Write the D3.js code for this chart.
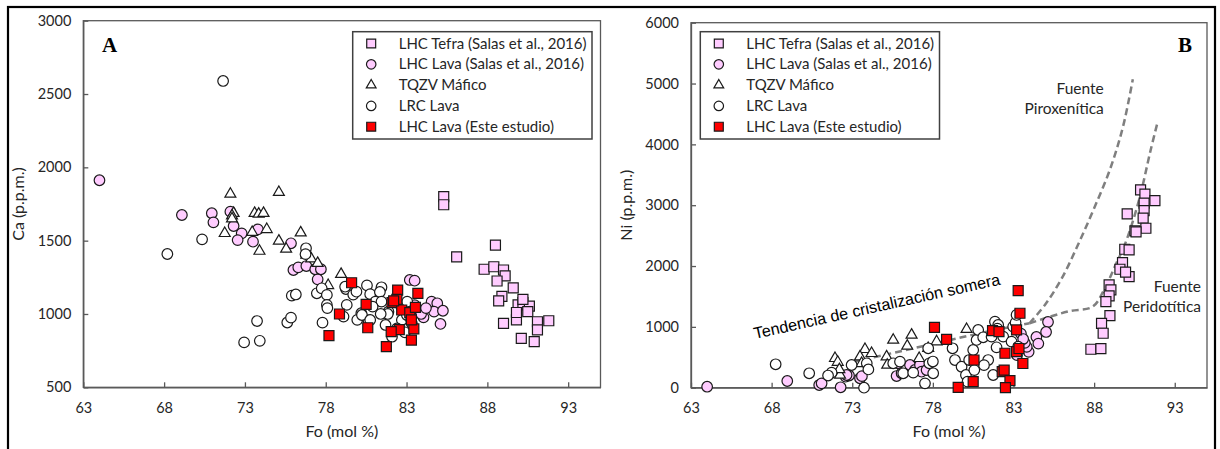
<!DOCTYPE html>
<html><head><meta charset="utf-8">
<script src="https://cdn.jsdelivr.net/npm/d3@7"></script>
<style>body{margin:0;background:#fff} svg{display:block}</style>
</head><body><svg id="c" width="1220" height="449"></svg>
<script>
// ---------- data ----------
const xTicks = [63,68,73,78,83,88,93];
const caTicks = [500,1000,1500,2000,2500,3000];
const niTicks = [0,1000,2000,3000,4000,5000,6000];
const seriesNames = ["LHC Tefra (Salas et al., 2016)","LHC Lava (Salas et al., 2016)","TQZV Máfico","LRC Lava","LHC Lava (Este estudio)"];

// Panel A: [Fo, Ca ppm]
const caTefra = [[85.3,1800],[85.3,1745],[86.1,1390],[88.5,1470],[87.8,1305],[88.4,1322],[89.0,1300],[89.1,1260],[88.6,1225],[89.6,1178],[88.9,1120],[88.7,1090],[89.0,936],[89.9,1062],[90.2,1078],[90.6,1054],[89.8,960],[90.5,1016],[90.1,834],[90.9,811],[91.1,947],[91.1,892],[91.8,954],[90.2,1100],[89.8,1010]];
const caLavaSalas = [[64.0,1912],[69.1,1675],[70.95,1687],[71.05,1625],[72.1,1698],[72.3,1600],[72.8,1550],[72.55,1504],[73.8,1577],[73.5,1493],[75.85,1482],[76.0,1300],[76.3,1318],[76.8,1327],[77.35,1305],[77.7,1305],[77.5,1236],[83.2,1232],[83.5,1227],[84.55,1084],[84.9,1073],[84.7,1016],[85.25,1022],[85.1,932],[84.05,977],[83.5,1060],[83.9,1000],[84.2,1040],[83.3,980]];
const caTqzv = [[72.1,1818],[75.1,1830],[72.3,1687],[72.2,1670],[73.6,1687],[73.85,1682],[74.15,1687],[71.75,1550],[73.45,1557],[74.35,1577],[73.9,1429],[75.1,1498],[75.55,1443],[76.45,1554],[76.8,1402],[77.1,1377],[77.5,1346],[78.15,1195],[78.95,1271],[72.2,1650]];
const caLrc = [[71.65,2589],[68.2,1409],[70.35,1509],[72.95,806],[73.92,817],[73.75,952],[75.62,942],[75.85,975],[75.9,1125],[76.15,1133],[76.78,1448],[76.75,1408],[77.45,1141],[77.75,1175],[78.07,1130],[78.07,1062],[78.1,1040],[77.8,941],[79.25,1170],[79.3,1062],[79.1,982],[79.7,1132],[80.55,1195],[80.75,1135],[80.2,1005],[80.64,957],[79.95,960],[81.45,1182],[81.35,1150],[79.9,1152],[79.2,1186],[81.07,1084],[81.45,1084],[80.24,993],[80.75,959],[81.88,1016],[82.71,959],[81.7,925],[82.41,902],[82.1,845],[83.33,936],[83.02,993],[81.84,1000],[82.68,1050],[82.9,875],[83.28,959],[83.04,1084],[81.4,1000],[80.9,1050]];
const caEste = [[79.6,1213],[80.5,1066],[78.85,1000],[80.6,906],[78.2,852],[82.45,1163],[82.4,1100],[82.1,1078],[83.7,1140],[82.7,1027],[83.2,1009],[83.55,1045],[82.55,893],[82.05,879],[83.45,898],[83.3,822],[81.75,777],[83.3,960],[82.2,1090]];

// Panel B: [Fo, Ni ppm]
const niTefra = [[90.88,3252],[91.15,3181],[91.77,3076],[91.1,3033],[90.05,2857],[91.1,2911],[91.04,2786],[90.53,2577],[91.21,2621],[89.9,2276],[90.17,2265],[89.76,2056],[89.6,1947],[90.17,1826],[89.95,1900],[88.93,1689],[89.04,1607],[88.93,1508],[88.73,1414],[88.98,1184],[88.46,1059],[88.56,895],[87.8,632],[88.42,641],[90.6,2560]];
const niLavaSalas = [[64.0,16],[68.97,110],[70.95,44],[71.1,72],[72.28,7],[72.59,181],[72.8,200],[73.48,155],[73.6,190],[72.65,209],[75.75,192],[75.85,401],[76.06,237],[76.58,373],[76.89,291],[77.2,373],[77.3,263],[77.61,291],[85.14,1080],[85.02,916],[84.42,834],[84.54,725],[83.94,589],[83.82,671],[83.7,736],[83.46,889],[83.22,535],[83.6,800]];
const niTqzv = [[71.93,483],[72.24,209],[72.1,420],[73.79,631],[73.48,510],[74.2,565],[73.58,400],[75.54,784],[76.68,867],[76.41,686],[75.13,510],[75.17,373],[77.15,483],[77.71,648],[78.23,757],[80.09,960],[72.2,300]];
const niLrc = [[68.25,385],[70.33,237],[71.72,247],[72.96,373],[73.9,401],[73.73,0],[75.54,401],[75.96,428],[76.16,237],[76.78,247],[77.51,72],[77.78,401],[78.02,237],[77.71,648],[79.22,648],[79.37,455],[79.78,345],[80.05,209],[80.15,99],[80.25,455],[80.5,620],[80.71,785],[80.81,949],[81.12,829],[81.43,455],[81.74,209],[81.64,839],[81.95,664],[81.85,1086],[82.05,1031],[82.36,839],[82.88,757],[82.98,1003],[83.13,1069],[83.19,1196],[83.29,674],[81.17,371],[80.57,289],[82.0,971],[78.0,430],[71.5,200],[74.0,300]];
const niEste = [[78.1,993],[78.85,796],[79.57,5],[80.5,99],[80.55,455],[81.7,938],[82.1,921],[82.47,566],[82.3,263],[82.78,115],[82.5,0],[83.19,949],[83.19,592],[83.29,1595],[83.4,1224],[83.58,398],[82.42,289],[83.34,644]];

// Panel B trend curves: [Fo, Ni]
const shallowTrend = [[73,420],[75,540],[78,720],[81,900],[84,1060]];
const piroxCurve = [[84,1060],[85,1380],[86,1800],[87,2350],[88,2950],[89,3600],[89.8,4300],[90.4,5070]];
const peridCurve = [[84,1060],[85.3,1170],[86.5,1260],[87.9,1330],[88.6,1600],[89.3,2000],[90,2420],[90.8,3100],[91.5,3900],[91.95,4380]];

// ---------- drawing ----------
const svg = d3.select("#c");
const FONT = "Lato, 'Open Sans', sans-serif";
const styles = [
  {sym:d3.symbolSquare, size:100, fill:"#ffccff"},
  {sym:d3.symbolCircle, size:88, fill:"#ffccff"},
  {sym:d3.symbolTriangle, size:52, fill:"#ffffff"},
  {sym:d3.symbolCircle, size:88, fill:"#ffffff"},
  {sym:d3.symbolSquare, size:100, fill:"#ff0000"}
];

// outer frame
svg.append("rect").attr("x",8).attr("y",7).attr("width",1207).attr("height",445)
  .attr("fill","none").attr("stroke","#000").attr("stroke-width",2.2);

function panel(opts){
  const x = d3.scaleLinear().domain([63,95]).range([opts.left,opts.right]);
  const y = d3.scaleLinear().domain(opts.yDomain).range([opts.bottom,opts.top]);
  const g = svg.append("g");
  g.append("rect").attr("x",opts.left).attr("y",opts.top)
    .attr("width",opts.right-opts.left).attr("height",opts.bottom-opts.top)
    .attr("fill","none").attr("stroke","#595959").attr("stroke-width",1.3);
  const xa = g.append("g").attr("transform",`translate(0,${opts.bottom})`)
    .call(d3.axisBottom(x).tickValues(xTicks).tickSizeInner(-5).tickSizeOuter(0).tickPadding(15).tickFormat(d3.format("d")));
  const ya = g.append("g").attr("transform",`translate(${opts.left},0)`)
    .call(d3.axisLeft(y).tickValues(opts.yTicks).tickSizeInner(-5).tickSizeOuter(0).tickPadding(12).tickFormat(d3.format("d")));
  [xa,ya].forEach(a=>{
    a.selectAll("path").attr("stroke","#595959").attr("stroke-width",1.3);
    a.selectAll("line").attr("stroke","#595959").attr("stroke-width",1.3);
    a.selectAll("text").attr("font-family",FONT).attr("font-size",14.5).attr("fill","#262626");
  });
  g.append("text").attr("x",(opts.left+opts.right)/2).attr("y",437).attr("text-anchor","middle")
    .attr("font-family",FONT).attr("font-size",16).attr("fill","#262626").text("Fo (mol %)");
  g.append("text").attr("transform",`translate(${opts.left-59},${(opts.top+opts.bottom)/2}) rotate(-90)`)
    .attr("text-anchor","middle").attr("font-family",FONT).attr("font-size",16).attr("fill","#262626").text(opts.yTitle);
  (opts.curves||[]).forEach(c=>{
    g.append("path").datum(c).attr("fill","none").attr("stroke","#7f7f7f").attr("stroke-width",2.5)
      .attr("stroke-dasharray","7,4")
      .attr("d",d3.line().x(d=>x(d[0])).y(d=>y(d[1])).curve(d3.curveCatmullRom));
  });
  const order = [1,2,3,0,4];
  order.forEach(i=>{
    const st = styles[i];
    g.append("g").selectAll("path").data(opts.series[i]).join("path")
      .attr("transform",d=>`translate(${x(d[0])},${y(d[1])})`)
      .attr("d",d3.symbol().type(st.sym).size(st.size))
      .attr("fill",st.fill).attr("stroke","#1a1a1a").attr("stroke-width",1.2);
  });
  const L = opts.legend;
  g.append("rect").attr("x",L.x).attr("y",L.y).attr("width",L.w).attr("height",L.h)
    .attr("fill","#fff").attr("stroke","#404040").attr("stroke-width",1.5);
  seriesNames.forEach((nm,i)=>{
    const st = styles[i];
    const yy = L.y + 11.8 + i*20.8;
    g.append("path").attr("transform",`translate(${L.x+18.5},${yy})`)
      .attr("d",d3.symbol().type(st.sym).size(st.size*0.8))
      .attr("fill",st.fill).attr("stroke","#1a1a1a").attr("stroke-width",1.2);
    g.append("text").attr("x",L.x+46).attr("y",yy+5).attr("font-family",FONT).attr("font-size",15)
      .attr("fill","#262626").text(nm);
  });
  g.append("text").attr("x",opts.letterX).attr("y",52).attr("font-family","'Liberation Serif', serif")
    .attr("font-weight","bold").attr("font-size",21).attr("fill","#000").text(opts.letter);
  return {x,y,g};
}

const A = panel({left:83.3,right:600.5,top:20.7,bottom:387.3,yDomain:[500,3000],yTicks:caTicks,
  yTitle:"Ca (p.p.m.)",series:[caTefra,caLavaSalas,caTqzv,caLrc,caEste],
  legend:{x:352.7,y:31.7,w:239.3,h:107.3},letter:"A",letterX:102});

const B = panel({left:691,right:1207,top:22.7,bottom:387.7,yDomain:[0,6000],yTicks:niTicks,
  yTitle:"Ni (p.p.m.)",series:[niTefra,niLavaSalas,niTqzv,niLrc,niEste],
  curves:[shallowTrend,piroxCurve,peridCurve],
  legend:{x:700.3,y:31.7,w:239.2,h:107.3},letter:"B",letterX:1178});

B.g.append("text").attr("transform",`translate(${B.x(66.97)},${B.y(800)}) rotate(-12.5)`)
  .attr("font-family","'Liberation Sans', Arial, sans-serif").attr("font-size",16.2).attr("fill","#000")
  .text("Tendencia de cristalización somera");
[["Fuente",B.x(88.6),94],["Piroxenítica",B.x(88.6),114],["Fuente",B.x(95)-6,292],["Peridotítica",B.x(95)-6,312]]
  .forEach(t=>{
    B.g.append("text").attr("x",t[1]).attr("y",t[2]).attr("text-anchor","end")
      .attr("font-family",FONT).attr("font-size",15.5).attr("fill","#262626").text(t[0]);
  });
</script></body></html>
